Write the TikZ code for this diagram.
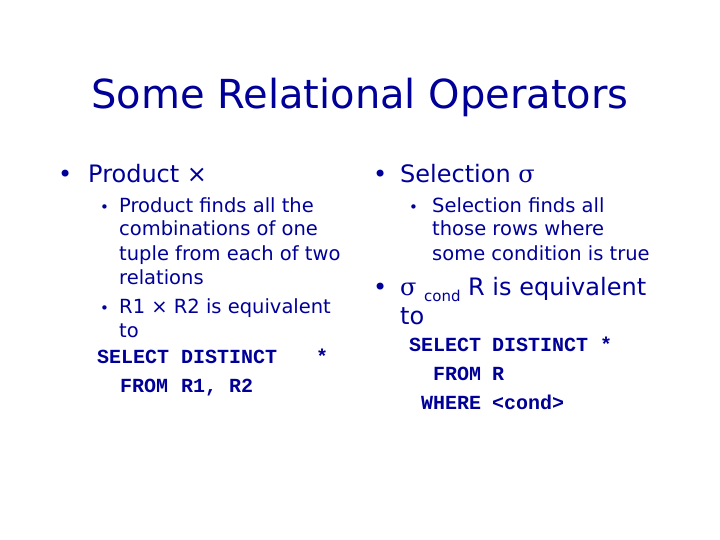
\documentclass[tikz,border=0pt]{standalone}
\usepackage{fontspec}
\setmainfont{DejaVu Sans}
\newfontfamily\monof{Liberation Mono}
\newfontfamily\serf{DejaVu Serif}
\definecolor{navy}{HTML}{000099}
\begin{document}
\begin{tikzpicture}[x=1pt,y=-1pt,
  every node/.style={anchor=base west,inner sep=0pt,text=navy},
  big/.style={font=\fontsize{24}{27}\selectfont},
  small/.style={font=\fontsize{19.5}{22}\selectfont},
  bul/.style={font=\fontsize{15}{18}\selectfont},
  mono/.style={font=\monof\bfseries\fontsize{20}{24}\selectfont}]
\fill[white] (0,0) rectangle (720,540);
\node[font=\fontsize{40}{44}\selectfont,anchor=base] (t) at (360,109) {Some Relational Operators};
% left column
\node[big] (b1) at (58,183) {•};
\node[big] (l1) at (88,183) {Product ×};
\node[bul] (s1) at (100,212) {•};
\node[small] (l2) at (119,212) {Product finds all the};
\node[small] (l3) at (119,236) {combinations of one};
\node[small] (l4) at (119,260) {tuple from each of two};
\node[small] (l5) at (119,284) {relations};
\node[bul] (s2) at (100,313) {•};
\node[small] (l6) at (119,313) {R1 × R2 is equivalent};
\node[small] (l7) at (119,337) {to};
\node[mono] (m1a) at (97,363) {SELECT};
\node[mono] (m1b) at (181,363) {DISTINCT};
\node[mono] (m1c) at (316,363) {*};
\node[mono] (m2a) at (120,392) {FROM};
\node[mono] (m2b) at (181,392) {R1, R2};
% right column
\node[big] (b2) at (373,183) {•};
\node[big] (r1) at (400,183) {Selection {\serf σ}};
\node[bul] (s3) at (409,212) {•};
\node[small] (r2) at (432,212) {Selection finds all};
\node[small] (r3) at (432,236) {those rows where};
\node[small] (r4) at (432,260) {some condition is true};
\node[big] (b3) at (373,295) {•};
\node[big] (r5) at (400,295) {\serf σ};
\node[font=\fontsize{15}{17}\selectfont] (r6) at (424,301) {cond};
\node[big] (r7) at (468,295) {R is equivalent};
\node[big] (r8) at (400,324) {to};
\node[mono] (m3) at (409,351) {SELECT};
\node[mono] (m4) at (492,351) {DISTINCT};
\node[mono] (m4b) at (600,351) {*};
\node[mono] (m5) at (433,380) {FROM};
\node[mono] (m6) at (492,380) {R};
\node[mono] (m7) at (421,409) {WHERE};
\node[mono] (m8) at (492,409) {<cond>};
\end{tikzpicture}
\end{document}
